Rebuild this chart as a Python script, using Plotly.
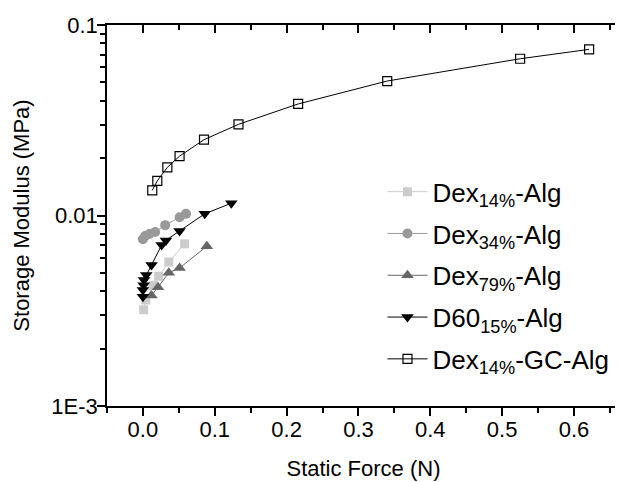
import plotly.graph_objects as go

# Static force (N) and storage modulus (MPa)
dex14_x = [0.001, 0.004, 0.014, 0.022, 0.036, 0.058]
dex14_y = [0.0032, 0.0036, 0.0043, 0.0048, 0.0057, 0.0071]

dex34_x = [0.0, 0.003, 0.009, 0.017, 0.031, 0.051, 0.060]
dex34_y = [0.0075, 0.0078, 0.0080, 0.0082, 0.0089, 0.0098, 0.0102]

dex79_x = [0.012, 0.021, 0.036, 0.051, 0.089]
dex79_y = [0.0038, 0.0042, 0.0050, 0.0053, 0.0069]

d60_x = [0.0, 0.0, 0.001, 0.0015, 0.0046, 0.012, 0.026, 0.032, 0.051, 0.086, 0.123]
d60_y = [0.00375, 0.00406, 0.00431, 0.00459, 0.00487, 0.0055, 0.0070, 0.0074, 0.0083, 0.0102, 0.0116]

gc_x = [0.013, 0.020, 0.034, 0.051, 0.085, 0.133, 0.216, 0.340, 0.525, 0.621]
gc_y = [0.01355, 0.0152, 0.0179, 0.0205, 0.0250, 0.0301, 0.0385, 0.0508, 0.0665, 0.0745]

names = ["Dex<sub>14%</sub>-Alg", "Dex<sub>34%</sub>-Alg", "Dex<sub>79%</sub>-Alg",
         "D60<sub>15%</sub>-Alg", "Dex<sub>14%</sub>-GC-Alg"]

y_major = [0.001, 0.01, 0.1]
y_major_text = ["1E-3", "0.01", "0.1"]
y_minor = [m * 10 ** e for e in (-3, -2) for m in range(2, 10)]

fig = go.Figure()

series = [
    (dex14_x, dex14_y, names[0], "#cccccc", dict(symbol="square", size=9, color="#cccccc")),
    (dex34_x, dex34_y, names[1], "#999999", dict(symbol="circle", size=10, color="#999999")),
    (dex79_x, dex79_y, names[2], "#666666", dict(symbol="triangle-up", size=11, color="#666666")),
    (d60_x, d60_y, names[3], "#000000", dict(symbol="triangle-down", size=11, color="#000000")),
    (gc_x, gc_y, names[4], "#000000", dict(symbol="square-open", size=9, color="#000000",
                                          line=dict(width=1.2, color="#000000"))),
]
for i, (xs, ys, nm, col, mk) in enumerate(series):
    fig.add_trace(go.Scatter(x=xs, y=ys, name=nm, mode="lines+markers", legendgroup=f"g{i}",
                             line=dict(color=col, width=1), marker=mk))

# invisible trace to carry the top / right mirror axes
fig.add_trace(go.Scatter(x=[0.3], y=[0.01], xaxis="x2", yaxis="y2", mode="markers",
                         marker=dict(opacity=0), showlegend=False, hoverinfo="skip"))

font = "Liberation Sans, Arial, sans-serif"
xr = [-0.05, 0.664]
yr = [-3, -1]

fig.update_layout(
    width=623, height=482,
    margin=dict(l=99, r=11, t=17, b=84),
    paper_bgcolor="white", plot_bgcolor="white",
    font=dict(family=font, color="black"),
    showlegend=True,
    legend=dict(x=0.537, y=0.624, xanchor="left", yanchor="top",
                font=dict(size=26, family=font), bgcolor="rgba(0,0,0,0)",
                tracegroupgap=5, itemwidth=40),
    xaxis=dict(range=xr, showgrid=False, zeroline=False, showline=True, automargin=False,
               linecolor="black", linewidth=1.5, ticks="outside", ticklen=8,
               tickwidth=1.5, tickcolor="black", dtick=0.1, tick0=0, tickformat=".1f",
               minor=dict(ticks="outside", ticklen=5, tickwidth=1.5, dtick=0.05,
                          tick0=0, tickcolor="black"),
               tickfont=dict(size=22), ticklabelstandoff=-5,
               title=dict(text="Static Force (N)", font=dict(size=22), standoff=19)),
    yaxis=dict(type="log", range=yr, showgrid=False, zeroline=False, showline=True,
               automargin=False,
               linecolor="black", linewidth=1.5, ticks="outside", ticklen=8,
               tickwidth=1.5, tickcolor="black", tickmode="array",
               tickvals=y_major, ticktext=y_major_text,
               minor=dict(ticks="outside", ticklen=5, tickwidth=1.5,
                          tickmode="array", tickvals=y_minor, tickcolor="black"),
               tickfont=dict(size=22), ticklabelstandoff=-5,
               title=dict(text="Storage Modulus (MPa)", font=dict(size=22), standoff=16)),
    xaxis2=dict(overlaying="x", side="top", range=xr, showgrid=False, zeroline=False,
                automargin=False,
                showline=True, linecolor="black", linewidth=1.5, ticks="inside",
                ticklen=8, tickwidth=1.5, tickcolor="black", dtick=0.1, tick0=0,
                minor=dict(ticks="inside", ticklen=5, tickwidth=1.5, dtick=0.05,
                           tick0=0, tickcolor="black"),
                showticklabels=False),
    yaxis2=dict(overlaying="y", side="right", type="log", range=yr, showgrid=False,
                automargin=False,
                zeroline=False, showline=False, ticks="inside", ticklen=3,
                tickwidth=1, tickcolor="#bbbbbb", tickmode="array", tickvals=y_major,
                minor=dict(ticks="inside", ticklen=2, tickwidth=1,
                           tickmode="array", tickvals=y_minor, tickcolor="#cccccc"),
                showticklabels=False),
)

fig.write_html("out.html")
